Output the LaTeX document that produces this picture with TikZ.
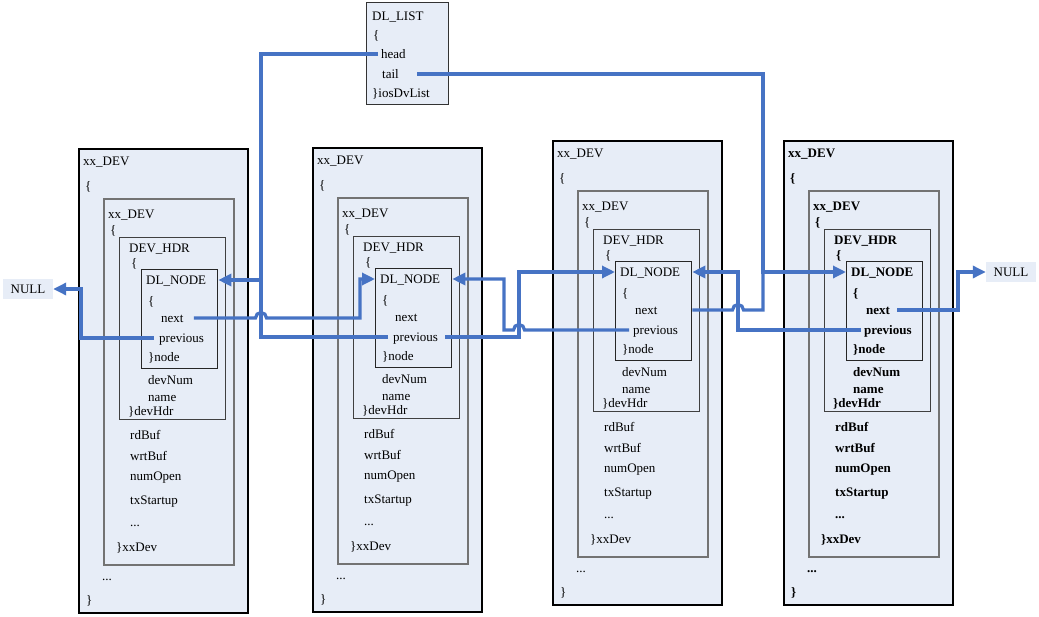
\documentclass[tikz,border=0pt]{standalone}
\usepackage{fontspec}
\setmainfont{Liberation Serif}
\usetikzlibrary{positioning, arrows.meta}
\definecolor{boxfill}{RGB}{231,237,247}
\definecolor{ptrblue}{RGB}{70,115,196}

\tikzset{
  frame/.style = {rectangle, fill = boxfill, anchor = north west, inner sep = 0pt},
  field/.style = {anchor = west, inner sep = 0pt, text height = 10pt, text depth = 2pt, font = \fontsize{13}{15}\selectfont},
  bold/.style = {font = \fontsize{13}{15}\selectfont\bfseries},
  nullbox/.style = {fill = boxfill, minimum width = 50pt, minimum height = 20pt, inner sep = 0pt, font = \fontsize{13}{15}\selectfont},
  ptr/.style = {draw = ptrblue, line width = 3.2pt, shorten <= 5pt, -{Triangle[length = 13pt, width = 12pt]}}
}

% one xx_DEV structure: #1 name, #2 #3 top left corner, #4 extra text style
\newcommand{\devstruct}[4]{%
  \begin{scope}[shift = {(#2,#3)}]
    \node [frame, draw = black, line width = 1.6pt, minimum width = 169pt, minimum height = 464pt] (#1) at (0,0) {};
    \node [frame, draw = black!55, line width = 1.6pt, minimum width = 130pt, minimum height = 366pt] (#1dev) at (25,50) {};
    \node [frame, draw = black!75, line width = 1.3pt, minimum width = 106pt, minimum height = 182pt] (#1hdr) at (41,89) {};
    \node [frame, draw = black!85, line width = 1.3pt, minimum width = 76pt, minimum height = 99pt] (#1node) at (63,121) {};
    \begin{scope}[field/.append style = {#4}]
      \node [field] at (5,13) {xx\_DEV};
      \node [field] at (7,38) {\{};
      \node [field] at (30,66) {xx\_DEV};
      \node [field] at (32,82) {\{};
      \node [field] at (51,100) {DEV\_HDR};
      \node [field] at (53,115) {\{};
      \node [field] (#1title) at (68,132) {DL\_NODE};
      \node [field] at (70,153) {\{};
      \node [field] (#1next) at (83,170) {next};
      \node [field] (#1prev) at (81,190) {previous};
      \node [field] at (70,209) {\}node};
      \node [field] at (70,232) {devNum};
      \node [field] at (70,249) {name};
      \node [field] at (50,263) {\}devHdr};
      \node [field] at (52,287) {rdBuf};
      \node [field] at (52,308) {wrtBuf};
      \node [field] at (52,328) {numOpen};
      \node [field] at (52,352) {txStartup};
      \node [field] at (52,374) {...};
      \node [field] at (38,399) {\}xxDev};
      \node [field] at (24,428) {...};
      \node [field] at (8,452) {\}};
    \end{scope}
  \end{scope}}

\begin{document}
\begin{tikzpicture}[x = 1pt, y = -1pt]
  \useasboundingbox (0,0) rectangle (1039,616);

  % structures
  \devstruct{b1}{78}{148}{}
  \devstruct{b2}{312}{147}{}
  \devstruct{b3}{552}{140}{}
  \devstruct{b4}{783}{140}{bold}

  \node [frame, draw = black!80, line width = 1.3pt, minimum width = 82pt, minimum height = 102pt] (list) at (366,2) {};
  \node [field] at (372,16) {DL\_LIST};
  \node [field] at (373,35) {\{};
  \node [field] (head) at (381,54) {head};
  \node [field] (tail) at (382,74) {tail};
  \node [field] at (372,93) {\}iosDvList};

  \node [nullbox] (nullL) at (28,289) {NULL};
  \node [nullbox] (nullR) at (1011,272) {NULL};

  % routing columns
  \coordinate (jHead) at (261,0);
  \coordinate (jNext) at (360,0);
  \coordinate (jLeft) at (81,0);
  \coordinate (jPrev2) at (519,0);
  \coordinate (jPrev3) at (504,0);
  \coordinate (jPrev4) at (738,0);
  \coordinate (jTail) at (763,0);
  \coordinate (jNull) at (958,0);

  % edges
  \draw [ptr, shorten <= 3pt] (head.west) -| (jHead |- b1title) -- (b1title -| b1node.east);
  \draw [ptr, -] (b2prev.west) -| (jHead |- b1title);
  \draw [ptr, shorten <= 10pt] (b1next.east) -- ([xshift = -5.5pt]jHead |- b1next) arc [start angle = 180, end angle = 0, radius = 5.5pt] -| (jNext |- b2title) -- (b2title -| b2node.west);
  \draw [ptr] (b1prev.west) -| (jLeft |- nullL) -- (nullL.east);

  \draw [ptr, shorten <= 7pt] (b2prev.east) -| (jPrev2 |- b3title) -- (b3title -| b3node.west);
  \draw [ptr, shorten <= 4pt] (b3prev.west) -- ([xshift = 5.5pt]jPrev2 |- b3prev) arc [start angle = 0, end angle = 180, radius = 5.5pt] -| (jPrev3 |- b2title) -- (b2title -| b2node.east);

  \draw [ptr, shorten <= 18pt] (tail.east) -| (jTail |- b4title) -- (b4title -| b4node.west);
  \draw [ptr, -, shorten <= 0pt] (b3next -| b3node.east) -- ([xshift = -5.5pt]jPrev4 |- b3next) arc [start angle = 180, end angle = 0, radius = 5.5pt] -| (jTail |- b4title);
  \draw [ptr, shorten <= 3pt] (b4prev.west) -| (jPrev4 |- b3title) -- (b3title -| b3node.east);
  \draw [ptr, shorten <= 7pt] (b4next.east) -| (jNull |- nullR) -- (nullR.west);
\end{tikzpicture}
\end{document}
